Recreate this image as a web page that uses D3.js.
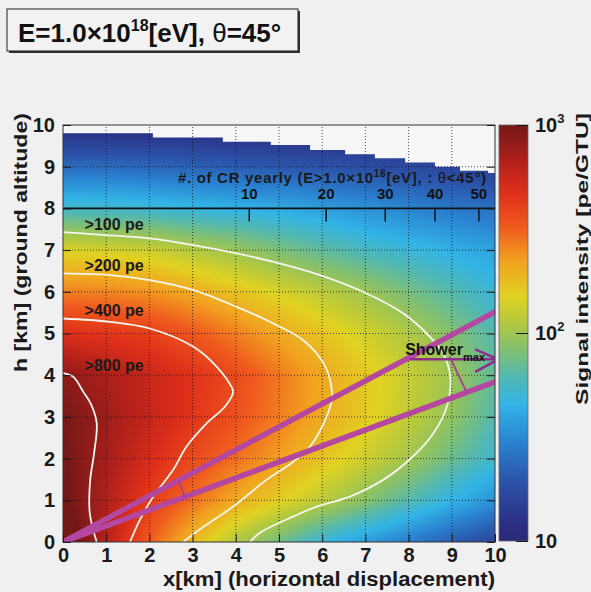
<!DOCTYPE html>
<html>
<head>
<meta charset="utf-8">
<script src="https://cdn.jsdelivr.net/npm/d3@7"></script>
<style>
  body { margin: 0; background: #f0f0f0; }
  text { font-family: "Liberation Sans", Arial, Helvetica, sans-serif; font-weight: bold; }
</style>
</head>
<body>
<svg id="chart" width="591" height="592"></svg>
<script>
// ---- data ----
// signal intensity [pe/GTU] at grid nodes, rows are h = 0..10 km, columns x = 0..10 km
const gridX = [0, 1, 2, 3, 4, 5, 6, 7, 8, 9, 10];
const gridH = [0, 1, 2, 3, 4, 5, 6, 7, 8, 9, 10];
const signalRows = [
  [1300, 650, 320, 185, 110, 75, 50, 37, 28, 21, 16],
  [1080, 670, 415, 292, 207, 156, 118, 87, 63, 46, 34],
  [1020, 720, 510, 370, 290, 223, 170, 132, 102, 73, 52],
  [985, 760, 586, 450, 348, 268, 206, 159, 123, 92, 62],
  [860, 694, 566, 462, 368, 277, 209, 162, 127, 99, 68],
  [485, 445, 410, 338, 267, 211, 169, 136, 110, 84, 62],
  [265, 259, 240, 205, 170, 142, 118, 98, 78, 63, 50],
  [145, 138, 130, 113, 97, 80, 68, 57, 50, 44, 39],
  [55, 54, 52, 48, 45, 42, 38, 34, 30, 27, 25],
  [24, 24, 23, 22, 21, 20, 19, 18, 17, 16, 15],
  [11, 11, 11, 11, 10.5, 10.5, 10, 10, 10, 10, 10]
];

// iso-signal contours, [x km, h km]
const contourLevels = [100, 200, 400, 800];
const contour100 = [[0,7.43],[1,7.36],[2.01,7.28],[3.02,7.12],[4.02,6.92],[4.9,6.71],[5.95,6.4],[7.03,5.96],[7.88,5.48],[8.42,5.0],[8.8,4.52],[8.96,4.0],[8.9,3.3],[8.57,2.6],[8.1,2.05],[7.41,1.49],[6.64,1.09],[5.87,0.85],[5.35,0.62],[4.56,0.22],[4.33,0]];
const contour200 = [[0,6.44],[1.09,6.4],[2.01,6.28],[3.02,6.04],[4.02,5.64],[4.75,5.3],[5.56,4.84],[6.03,4.29],[6.2,3.8],[6.22,3.4],[6.1,3.0],[5.72,2.29],[5.3,1.9],[4.71,1.49],[3.94,0.85],[3.3,0.4],[2.78,0]];
const contour400 = [[0,5.36],[1.09,5.28],[2.01,5.12],[3.02,4.68],[3.56,4.2],[3.9,3.72],[3.94,3.6],[3.75,3.25],[3.33,2.85],[2.86,2.29],[2.55,1.73],[2.09,1.09],[1.78,0.53],[1.55,0]];
const contour800 = [[0,4.05],[0.24,3.96],[0.47,3.6],[0.65,3.3],[0.78,2.85],[0.72,2.13],[0.63,1.49],[0.62,0.69],[0.78,0]];
const contours = [contour100, contour200, contour400, contour800];

// "#. of CR yearly" step outline in the upper band
const stepEdges = [0, 2.08, 3.70, 4.81, 5.72, 6.53, 7.22, 7.92, 8.61, 9.19, 9.84, 10];
const stepTops  = [9.80, 9.70, 9.60, 9.52, 9.40, 9.30, 9.20, 9.10, 9.00, 8.90, 8.85, 8.85];
const crTicks = [10, 20, 30, 40, 50];
const crKmAt10 = 4.3;   // displacement where the CR axis reads 10

// field of view edges from the origin, and shower max marker
const fovX = [0, 10];
const fovUpperH = [0, 5.52];
const fovLowerH = [0, 3.84];
const linkNearX = [2.67, 2.82], linkNearH = [1.47, 1.08];
const linkMaxX = [8.95, 9.33], linkMaxH = [4.45, 3.62];
const arrowX = [8.03, 10.08], arrowH = 4.38;
const arrowHeadX = 9.54, arrowHeadH = [4.62, 4.08];

// palette (fraction of log scale -> colour)
const paletteStops  = [0, 0.035, 0.14, 0.235, 0.33, 0.394, 0.46, 0.524, 0.587, 0.675, 0.755, 0.835, 0.915, 1];
const paletteColors = ["#2b2a78", "#2b2d82", "#2b52a8", "#2a82d0", "#32b4e6", "#52b8b2", "#82c070", "#b2c840", "#e0d222", "#f2a020", "#ef5a1e", "#e0301a", "#b0201a", "#741818"];
const zTicksMajor = [10, 100, 1000];

// ---- layout ----
const svg = d3.select("#chart");
const x = d3.scaleLinear().domain([0, 10]).range([63, 495]);
const y = d3.scaleLinear().domain([0, 10]).range([542, 125]);
const zFrac = d3.scaleLog().domain([10, 1000]).range([0, 1]).clamp(true);
const zy = d3.scaleLog().domain([10, 1000]).range([541, 125]);
const palette = d3.scaleLinear().domain(paletteStops).range(paletteColors).clamp(true);
const crScale = d3.scaleSqrt().domain([0, 10]).range([x(0), x(crKmAt10)]);
const cbLeft = 499, cbRight = 528;

// title box
svg.append("rect").attr("x", 9).attr("y", 11).attr("width", 291).attr("height", 42).attr("fill", "#333");
svg.append("rect").attr("x", 7).attr("y", 9).attr("width", 291).attr("height", 42)
  .attr("fill", "#f2f2f2").attr("stroke", "#222").attr("stroke-width", 1);
const title = svg.append("text").attr("x", 18).attr("y", 42).attr("font-size", 26).attr("fill", "#111");
title.append("tspan").text("E=1.0×10");
title.append("tspan").attr("font-size", 16).attr("dy", -11).text("18");
title.append("tspan").attr("dy", 11).text("[eV], ");
title.append("tspan").attr("font-weight", "normal").text("θ");
title.append("tspan").text("=45°");

// heat map drawn on a canvas, bilinear in log(signal)
const W = Math.round(x(10) - x(0)), H = Math.round(y(0) - y(10));
const canvas = document.createElement("canvas");
canvas.width = W; canvas.height = H;
const ctx = canvas.getContext("2d");
const img = ctx.createImageData(W, H);
const logGrid = signalRows.map(r => r.map(v => Math.log10(v)));
const colourCache = new Map();
for (let j = 0; j < H; j++) {
  const hv = y.invert(y(10) + j + 0.5);
  let r = Math.min(gridH.length - 2, Math.max(0, d3.bisectRight(gridH, hv) - 1));
  const fh = (hv - gridH[r]) / (gridH[r + 1] - gridH[r]);
  for (let i = 0; i < W; i++) {
    const xv = x.invert(x(0) + i + 0.5);
    const c = Math.min(gridX.length - 2, Math.max(0, d3.bisectRight(gridX, xv) - 1));
    const fx = (xv - gridX[c]) / (gridX[c + 1] - gridX[c]);
    const lv = (1 - fh) * ((1 - fx) * logGrid[r][c] + fx * logGrid[r][c + 1]) +
               fh * ((1 - fx) * logGrid[r + 1][c] + fx * logGrid[r + 1][c + 1]);
    const key = Math.round(lv * 400);
    let col = colourCache.get(key);
    if (!col) { col = d3.rgb(palette(zFrac(Math.pow(10, key / 400)))); colourCache.set(key, col); }
    const k = (j * W + i) * 4;
    img.data[k] = col.r; img.data[k + 1] = col.g; img.data[k + 2] = col.b; img.data[k + 3] = 255;
  }
}
ctx.putImageData(img, 0, 0);

svg.append("clipPath").attr("id", "plotClip").append("rect")
  .attr("x", x(0)).attr("y", y(10)).attr("width", W).attr("height", H);
const plot = svg.append("g").attr("clip-path", "url(#plotClip)");

plot.append("image").attr("x", x(0)).attr("y", y(10)).attr("width", W).attr("height", H)
  .attr("preserveAspectRatio", "none").attr("href", canvas.toDataURL());

// blank area above the CR histogram
const stepPts = stepEdges.map((e, i) => [e, stepTops[i]]);
plot.append("path").datum(stepPts)
  .attr("fill", "#f6f6f6")
  .attr("d", d3.area().curve(d3.curveStepAfter).x(d => x(d[0])).y0(y(10)).y1(d => y(d[1])));

// dotted grid
plot.append("g").selectAll("line").data(d3.range(1, 10)).join("line")
  .attr("x1", d => x(d)).attr("x2", d => x(d)).attr("y1", y(0)).attr("y2", y(10))
  .attr("stroke", "#111").attr("stroke-opacity", 0.75).attr("stroke-dasharray", "1,2");
plot.append("g").selectAll("line").data(d3.range(1, 10).filter(d => d !== 8)).join("line")
  .attr("y1", d => y(d)).attr("y2", d => y(d)).attr("x1", x(0)).attr("x2", x(10))
  .attr("stroke", "#111").attr("stroke-opacity", 0.75).attr("stroke-dasharray", "1,2");

// contours
const contourLine = d3.line().curve(d3.curveCatmullRom).x(d => x(d[0])).y(d => y(d[1]));
plot.append("g").selectAll("path").data(contours).join("path")
  .attr("d", contourLine).attr("fill", "none").attr("stroke", "#f6f6ee").attr("stroke-width", 1.8);
plot.append("g").selectAll("text").data(contourLevels).join("text")
  .attr("x", x(0.5)).attr("y", (d, i) => y(contours[i][0][1]) - 2)
  .attr("font-size", 16).attr("fill", "#1a1a1a").text(d => ">" + d + " pe");

// field of view lines and shower max marker
const fov = [fovUpperH, fovLowerH];
plot.append("g").selectAll("line").data(fov).join("line")
  .attr("x1", x(fovX[0])).attr("y1", d => y(d[0])).attr("x2", x(fovX[1])).attr("y2", d => y(d[1]))
  .attr("stroke", "#b4479f").attr("stroke-width", 5.5).attr("stroke-linecap", "round");
plot.append("g").selectAll("line").data([[linkNearX, linkNearH], [linkMaxX, linkMaxH]]).join("line")
  .attr("x1", d => x(d[0][0])).attr("y1", d => y(d[1][0])).attr("x2", d => x(d[0][1])).attr("y2", d => y(d[1][1]))
  .attr("stroke", "#a83c98").attr("stroke-width", 1.8);
const arrowCol = "#8e2e8e";
plot.append("line").attr("x1", x(arrowX[0])).attr("x2", x(arrowX[1])).attr("y1", y(arrowH)).attr("y2", y(arrowH))
  .attr("stroke", arrowCol).attr("stroke-width", 2.5);
plot.append("g").selectAll("line").data(arrowHeadH).join("line")
  .attr("x1", x(arrowHeadX)).attr("y1", d => y(d)).attr("x2", x(arrowX[1])).attr("y2", y(arrowH))
  .attr("stroke", arrowCol).attr("stroke-width", 2.5);
const sm = plot.append("text").attr("x", x(7.92)).attr("y", y(4.48)).attr("font-size", 16).attr("fill", "#111");
sm.append("tspan").text("Shower");
sm.append("tspan").attr("font-size", 11).attr("dy", 6).text("max");

// CR yearly axis at h = 8
plot.append("line").attr("x1", x(0)).attr("x2", x(10)).attr("y1", y(8)).attr("y2", y(8))
  .attr("stroke", "#111").attr("stroke-width", 1.6);
const crAxis = plot.append("g").attr("transform", `translate(0,${y(8)})`);
crAxis.call(d3.axisTop(crScale).tickValues(d3.range(12, 53, 2).filter(v => v % 10)).tickSize(-7).tickFormat(""));
crAxis.call(d3.axisTop(crScale).tickValues(crTicks).tickSize(-13).tickPadding(9).tickFormat(d3.format("d")));
crAxis.selectAll(".domain").remove();
crAxis.attr("font-size", 15).attr("font-family", null).attr("color", "#111");
crAxis.selectAll("line").attr("stroke-width", 1.5);
const crTitle = plot.append("text").attr("x", x(2.66)).attr("y", y(8.6)).attr("font-size", 15)
  .attr("letter-spacing", 0.7).attr("fill", "#1a1a1a");
crTitle.append("tspan").text("#. of CR yearly (E>1.0×10");
crTitle.append("tspan").attr("font-size", 10).attr("dy", -6).text("18");
crTitle.append("tspan").attr("dy", 6).text("[eV], : ");
crTitle.append("tspan").attr("font-weight", "normal").text("θ");
crTitle.append("tspan").text("<45°)");

// frame
svg.append("rect").attr("x", x(0)).attr("y", y(10)).attr("width", W).attr("height", H)
  .attr("fill", "none").attr("stroke", "#333").attr("stroke-width", 1);

// axes with inward ticks
const minor = d3.range(0, 10.01, 0.2).map(v => +v.toFixed(1));
const major = d3.range(0, 11);
function styleAxis(g) {
  g.selectAll(".domain").remove();
  g.attr("font-family", null).attr("font-size", 20).attr("color", "#1a1a1a");
}
const left = svg.append("g").attr("transform", `translate(${x(0)},0)`);
left.call(d3.axisLeft(y).tickValues(minor).tickSize(-4).tickFormat(""));
left.call(d3.axisLeft(y).tickValues(major).tickSize(-8).tickPadding(8));
styleAxis(left);
const right = svg.append("g").attr("transform", `translate(${x(10)},0)`);
right.call(d3.axisRight(y).tickValues(minor).tickSize(-4).tickFormat(""));
right.call(d3.axisRight(y).tickValues(major).tickSize(-8).tickFormat(""));
styleAxis(right);
const bottom = svg.append("g").attr("transform", `translate(0,${y(0)})`);
bottom.call(d3.axisBottom(x).tickValues(minor).tickSize(-4).tickFormat(""));
bottom.call(d3.axisBottom(x).tickValues(major).tickSize(-8).tickPadding(6));
styleAxis(bottom);

svg.append("text").attr("x", x(10)).attr("y", 585.5).attr("text-anchor", "end")
  .attr("font-size", 20).attr("textLength", 332).attr("lengthAdjust", "spacingAndGlyphs")
  .attr("fill", "#1a1a1a").text("x[km] (horizontal displacement)");
svg.append("text").attr("transform", "translate(27,113) rotate(-90)").attr("text-anchor", "end")
  .attr("font-size", 19).attr("textLength", 259).attr("lengthAdjust", "spacingAndGlyphs")
  .attr("fill", "#1a1a1a").text("h [km] (ground altitude)");

// colour bar
const grad = svg.append("defs").append("linearGradient").attr("id", "pal")
  .attr("x1", 0).attr("y1", 1).attr("x2", 0).attr("y2", 0);
grad.selectAll("stop").data(paletteStops).join("stop")
  .attr("offset", d => d).attr("stop-color", (d, i) => paletteColors[i]);
svg.append("rect").attr("x", cbLeft).attr("y", zy(1000)).attr("width", cbRight - cbLeft).attr("height", zy(10) - zy(1000))
  .attr("fill", "url(#pal)").attr("stroke", "#666").attr("stroke-width", 0.8);
const zAxis = svg.append("g").attr("transform", `translate(${cbRight},0)`);
zAxis.call(d3.axisRight(zy).tickValues(d3.range(20, 100, 10).concat(d3.range(200, 1000, 100))).tickSize(-6).tickFormat(""));
zAxis.call(d3.axisRight(zy).tickValues(zTicksMajor).tickSize(-12).tickFormat(""));
styleAxis(zAxis);
const zLab = svg.append("g").selectAll("text").data(zTicksMajor).join("text")
  .attr("x", 535).attr("y", d => zy(d) + 7).attr("font-size", 20).attr("fill", "#1a1a1a");
zLab.append("tspan").text("10");
zLab.filter(d => d > 10).append("tspan").attr("font-size", 13).attr("dy", -9).text(d => Math.round(Math.log10(d)));
svg.append("text").attr("transform", "translate(588,113) rotate(-90)").attr("text-anchor", "end")
  .attr("font-size", 16.5).attr("textLength", 292).attr("lengthAdjust", "spacingAndGlyphs")
  .attr("fill", "#1a1a1a").text("Signal intensity [pe/GTU]");
</script>
</body>
</html>
